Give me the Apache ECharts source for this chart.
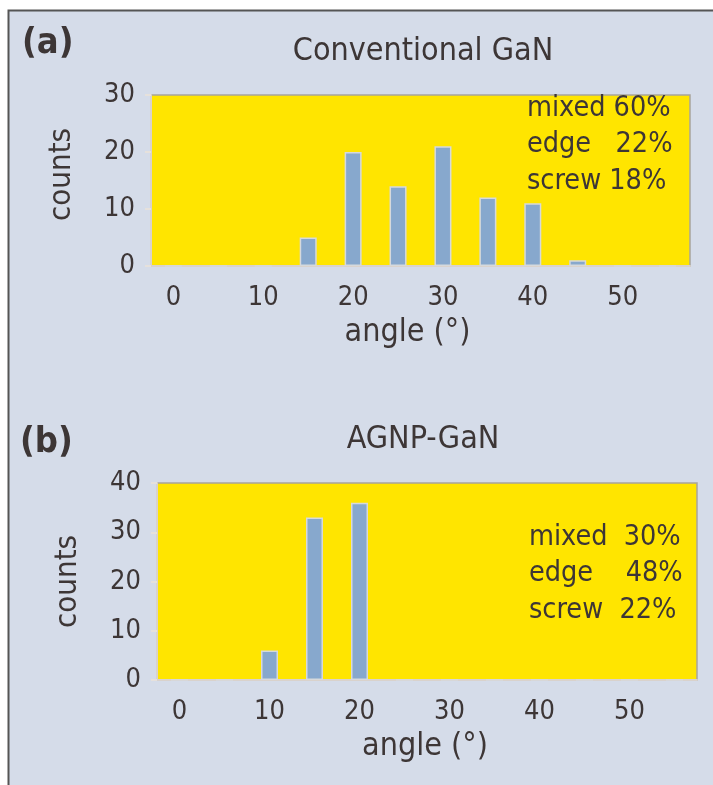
<!DOCTYPE html>
<html>
<head>
<meta charset="utf-8">
<script src="https://cdn.jsdelivr.net/npm/echarts@6/dist/echarts.min.js"></script>
<style>
    html, body { margin: 0; padding: 0; background: #ffffff; }
    #main { width: 713px; height: 785px; }
</style>
</head>
<body>
<div id="main"></div>
<script>
// angle bins (deg), shared by both panels
const angles = ['0', '5', '10', '15', '20', '25', '30', '35', '40', '45', '50', '55'];
// counts per bin
const countsConv = [0, 0, 0, 5, 20, 14, 21, 12, 11, 1, 0, 0];
const countsAgnp = [0, 0, 6, 33, 36, 0, 0, 0, 0, 0, 0, 0];
// dislocation type shares
const typesConv = ['mixed 60%', 'edge   22%', 'screw 18%'];
const typesAgnp = ['mixed  30%', 'edge    48%', 'screw  22%'];

const textColor = '#3d3636';
const fontName = '"DejaVu Sans Condensed", "DejaVu Sans"';

function xAxisFor(gridIndex, shift) {
    return {
        type: 'category',
        gridIndex: gridIndex,
        data: angles,
        name: 'angle (°)',
        nameLocation: 'middle',
        nameGap: 51,
        nameTextStyle: { fontSize: 32, color: textColor, fontFamily: fontName, padding: [0, shift, 0, 0] },
        axisLine: { lineStyle: { color: '#d9d2cc', width: 2 } },
        axisTick: { interval: 0, length: 11, lineStyle: { color: '#e6e1dc', width: 2 } },
        axisLabel: { interval: 1, margin: 18, fontSize: 27, color: textColor, fontFamily: fontName }
    };
}

function yAxisFor(gridIndex, max, shift) {
    return {
        type: 'value',
        gridIndex: gridIndex,
        min: 0,
        max: max,
        interval: 10,
        name: 'counts',
        nameLocation: 'middle',
        nameGap: 74,
        nameTextStyle: { fontSize: 31, color: textColor, fontFamily: fontName, padding: [0, 0, 0, shift] },
        axisLine: { show: true, lineStyle: { color: '#d9d2cc', width: 2 } },
        axisTick: { show: true, length: 6, lineStyle: { color: '#e6e1dc', width: 2 } },
        splitLine: { show: false },
        axisLabel: { margin: 16, fontSize: 27, color: textColor, fontFamily: fontName }
    };
}

function barSeries(idx, data) {
    return {
        type: 'bar',
        xAxisIndex: idx,
        yAxisIndex: idx,
        data: data,
        barWidth: 17,
        itemStyle: { color: '#87a8cd', borderColor: '#d6d9dc', borderWidth: 1.5 }
    };
}

function typeTexts(lines, left, top) {
    return lines.map((s, i) => ({
        type: 'text',
        left: left,
        top: top + i * 36.5,
        style: { text: s, fontSize: 28.5, fill: textColor, fontFamily: fontName }
    }));
}

const chart = echarts.init(document.getElementById('main'));
chart.setOption({
    backgroundColor: '#ffffff',
    animation: false,
    graphic: [
        {
            type: 'rect',
            z: -10,
            shape: { x: 8.5, y: 10.5, width: 760, height: 800 },
            style: { fill: '#d5dce9', stroke: '#555555', lineWidth: 2 }
        },
        {
            type: 'text', left: 22, top: 26,
            style: { text: '(a)', fontSize: 36, fontWeight: 'bold', fill: textColor, fontFamily: fontName }
        },
        {
            type: 'text', left: 20, top: 425,
            style: { text: '(b)', fontSize: 36, fontWeight: 'bold', fill: textColor, fontFamily: fontName }
        }
    ].concat(typeTexts(typesConv, 527, 94), typeTexts(typesAgnp, 529, 523)),
    title: [
        { text: 'Conventional GaN', left: 418, top: 31, textAlign: 'center',
          textStyle: { fontSize: 32, fontWeight: 'normal', color: textColor, fontFamily: fontName } },
        { text: 'AGNP-GaN', left: 418, top: 419, textAlign: 'center',
          textStyle: { fontSize: 32, fontWeight: 'normal', color: textColor, fontFamily: fontName } }
    ],
    grid: [
        { left: 151, right: 23, top: 95, height: 171, show: true,
          backgroundColor: '#ffe500', borderColor: '#a8a49c', borderWidth: 1.5 },
        { left: 157, right: 16, top: 483, height: 197, show: true,
          backgroundColor: '#ffe500', borderColor: '#a8a49c', borderWidth: 1.5 }
    ],
    xAxis: [xAxisFor(0, 26), xAxisFor(1, 4)],
    yAxis: [yAxisFor(0, 30, 12), yAxisFor(1, 40, 0)],
    series: [barSeries(0, countsConv), barSeries(1, countsAgnp)]
});
</script>
</body>
</html>
